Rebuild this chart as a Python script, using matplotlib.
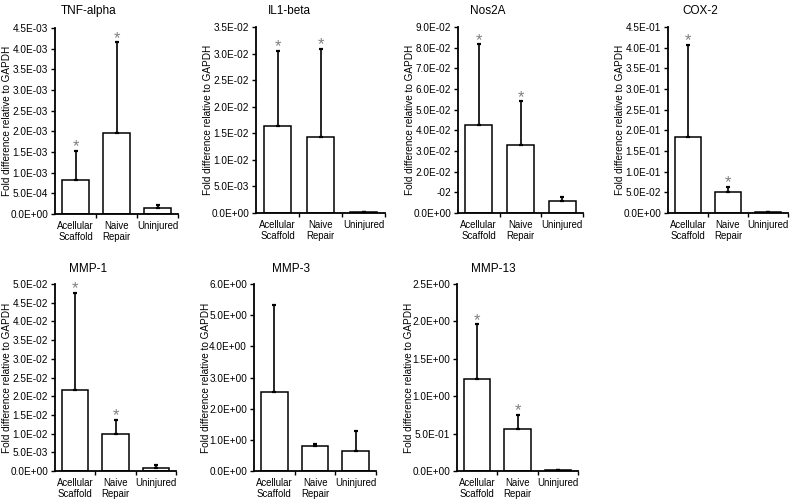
import matplotlib
matplotlib.use("Agg")
import matplotlib.pyplot as plt
import numpy as np

plt.rcParams['font.family'] = ['Liberation Sans', 'DejaVu Sans']

# ---------------- data ----------------
categories = ["Acellular\nScaffold", "Naive\nRepair", "Uninjured"]
genes = ["TNF-alpha", "IL1-beta", "Nos2A", "COX-2", "MMP-1", "MMP-3", "MMP-13"]

tnf_mean = [8.3e-4, 1.95e-3, 1.5e-4]
tnf_sd = [6.9e-4, 2.20e-3, 6.0e-5]
il1_mean = [1.64e-2, 1.43e-2, 2.5e-4]
il1_sd = [1.41e-2, 1.66e-2, 0.0]
nos_mean = [4.27e-2, 3.29e-2, 5.6e-3]
nos_sd = [3.89e-2, 2.11e-2, 2.1e-3]
cox_mean = [1.85e-1, 5.1e-2, 2.0e-3]
cox_sd = [2.22e-1, 1.3e-2, 0.0]
mmp1_mean = [2.16e-2, 1.0e-2, 7.0e-4]
mmp1_sd = [2.60e-2, 3.6e-3, 1.0e-3]
mmp3_mean = [2.53, 0.79, 0.63]
mmp3_sd = [2.80, 0.09, 0.65]
mmp13_mean = [1.23, 0.555, 0.01]
mmp13_sd = [0.73, 0.19, 0.0]

sig_default = [True, True, False]
sig_none = [False, False, False]

tnf_ticks = ["0.0E+00", "5.0E-04", "1.0E-03", "1.5E-03", "2.0E-03", "2.5E-03",
             "3.0E-03", "3.5E-03", "4.0E-03", "4.5E-03"]
il1_ticks = ["0.0E+00", "5.0E-03", "1.0E-02", "1.5E-02", "2.0E-02", "2.5E-02",
             "3.0E-02", "3.5E-02"]
nos_ticks = ["0.0E+00", "-02", "2.0E-02", "3.0E-02", "4.0E-02", "5.0E-02",
             "6.0E-02", "7.0E-02", "8.0E-02", "9.0E-02"]
cox_ticks = ["0.0E+00", "5.0E-02", "1.0E-01", "1.5E-01", "2.0E-01", "2.5E-01",
             "3.0E-01", "3.5E-01", "4.0E-01", "4.5E-01"]
mmp1_ticks = ["0.0E+00", "5.0E-03", "1.0E-02", "1.5E-02", "2.0E-02", "2.5E-02",
              "3.0E-02", "3.5E-02", "4.0E-02", "4.5E-02", "5.0E-02"]
mmp3_ticks = ["0.0E+00", "1.0E+00", "2.0E+00", "3.0E+00", "4.0E+00", "5.0E+00",
              "6.0E+00"]
mmp13_ticks = ["0.0E+00", "5.0E-01", "1.0E+00", "1.5E+00", "2.0E+00", "2.5E+00"]

tnf_max, il1_max, nos_max, cox_max = 4.5e-3, 3.5e-2, 9.0e-2, 4.5e-1
mmp1_max, mmp3_max, mmp13_max = 5.0e-2, 6.0, 2.5

# ---------------- layout (pixel boxes: left, right, top, bottom) ----------------
W, H = 800, 500
boxes = [(55, 178, 28, 214), (256, 385, 27, 213), (458, 583, 27, 213), (668, 788, 27, 213),
         (55, 176, 284, 471), (254, 376, 284, 471), (457, 578, 284, 471)]
title_pos = [(89, 11), (289, 11), (488, 11), (700, 11), (88, 269), (291, 269), (493, 269)]

panels = [
    (tnf_mean, tnf_sd, sig_default, tnf_ticks, tnf_max),
    (il1_mean, il1_sd, sig_default, il1_ticks, il1_max),
    (nos_mean, nos_sd, sig_default, nos_ticks, nos_max),
    (cox_mean, cox_sd, sig_default, cox_ticks, cox_max),
    (mmp1_mean, mmp1_sd, sig_default, mmp1_ticks, mmp1_max),
    (mmp3_mean, mmp3_sd, sig_none, mmp3_ticks, mmp3_max),
    (mmp13_mean, mmp13_sd, sig_default, mmp13_ticks, mmp13_max),
]

fig = plt.figure(figsize=(8, 5), dpi=100)
fig.patch.set_facecolor("white")

for gene, (mean, sd, sig, tlabels, ymax), (l, r, t, b), (tx, ty) in zip(
        genes, panels, boxes, title_pos):
    ax = fig.add_axes([l / W, (H - b) / H, (r - l) / W, (b - t) / H])
    x = np.arange(len(categories))
    mean = np.array(mean)
    sd = np.array(sd)
    ax.bar(x, mean, width=0.65, color="white", edgecolor="black",
           linewidth=1.1, zorder=2)
    ax.errorbar(x, mean, yerr=[np.zeros_like(sd), sd], fmt="none", ecolor="black",
                elinewidth=1.2, capsize=1.6, capthick=1.6, zorder=3)
    ax.set_xlim(-0.5, 2.5)
    ax.set_ylim(0, ymax)
    ax.set_yticks(np.linspace(0, ymax, len(tlabels)))
    ax.set_yticklabels(tlabels, fontsize=7.2)
    ax.set_xticks(x)
    ax.set_xticklabels(categories, fontsize=6.9, linespacing=1.15)
    ax.set_xticks([0.5, 1.5, 2.5], minor=True)
    ax.tick_params(axis="x", which="major", length=0, pad=5)
    ax.tick_params(axis="x", which="minor", length=3, width=1, direction="out")
    ax.tick_params(axis="y", length=3, width=1, direction="out", pad=2)
    for s in ["top", "right"]:
        ax.spines[s].set_visible(False)
    for s in ["left", "bottom"]:
        ax.spines[s].set_linewidth(1.3)
    for xi, m, e, flag in zip(x, mean, sd, sig):
        if flag:
            ax.annotate("*", xy=(xi, m + e), xytext=(0, 3), textcoords="offset points",
                        ha="center", va="center", fontsize=12, color="#808080",
                        annotation_clip=False)
    fig.text(tx / W, 1 - ty / H, gene, ha="center", va="center", fontsize=8.5)
    fig.text((l - 48) / W, 1 - ((t + b) / 2) / H, "Fold difference relative to GAPDH",
             rotation=90, ha="center", va="center", fontsize=7.2)

fig.savefig("out.png", dpi=100, facecolor="white")
